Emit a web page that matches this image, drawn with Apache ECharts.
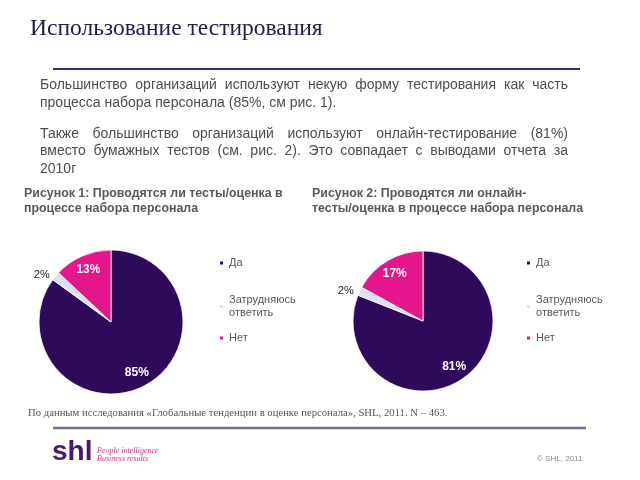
<!DOCTYPE html>
<html>
<head>
<meta charset="utf-8">
<script src="https://cdn.jsdelivr.net/npm/echarts@6/dist/echarts.min.js"></script>
<style>html,body{margin:0;padding:0;background:#fff;}#c{width:640px;height:480px;}</style>
</head>
<body>
<div id="c"></div>
<script>
// ---- data ----
const categories = ['Да', 'Затрудняюсь\nответить', 'Нет'];
const valuesFig1 = [85, 2, 13];
const valuesFig2 = [81, 2, 17];
const colors = ['#2e0a5a', '#dde1ee', '#e5168b'];

const titleText = 'Использование тестирования';
const para1 = [
  'Большинство организаций используют некую форму тестирования как часть',
  'процесса набора персонала (85%, см рис. 1).'
];
const para2 = [
  'Также большинство организаций используют онлайн-тестирование (81%)',
  'вместо бумажных тестов (см. рис. 2). Это совпадает с выводами отчета за',
  '2010г'
];
const fig1Title = ['Рисунок 1: Проводятся ли тесты/оценка в', 'процессе набора персонала'];
const fig2Title = ['Рисунок 2: Проводятся ли онлайн-', 'тесты/оценка в процессе набора персонала'];
const footnote = 'По данным исследования «Глобальные тенденции в оценке персонала», SHL, 2011. N – 463.';

// ---- layout helpers ----
const SANS = '"Liberation Sans", Arial, sans-serif';
const SERIF = '"Liberation Serif", "Times New Roman", serif';
const bodyFontSize = 14;
const ctx = document.createElement('canvas').getContext('2d');
ctx.font = bodyFontSize + 'px "Liberation Sans"';

function textEl(x, y, text, style) {
  return { type: 'text', x: x, y: y, silent: true,
    style: Object.assign({ text: text, verticalAlign: 'middle', textAlign: 'left' }, style) };
}
const bodyStyle = { fill: '#4d4d4d', font: bodyFontSize + 'px ' + SANS };
function lineEls(text, x0, x1, y, justify) {
  if (!justify) return [textEl(x0, y, text, bodyStyle)];
  const words = text.split(' ');
  const widths = words.map(w => ctx.measureText(w).width);
  const total = widths.reduce((a, b) => a + b, 0);
  const gap = (x1 - x0 - total) / (words.length - 1);
  const els = [];
  let x = x0;
  words.forEach((w, i) => { els.push(textEl(x, y, w, bodyStyle)); x += widths[i] + gap; });
  return els;
}

const graphics = [];
graphics.push(textEl(30, 29.2, titleText, { fill: '#1e1e4e', font: '23.5px ' + SERIF }));
graphics.push({ type: 'line', silent: true, shape: { x1: 53, y1: 69, x2: 580, y2: 69 },
  style: { stroke: '#3b2a6a', lineWidth: 2 } });
const L = 40, R = 568;
graphics.push(...lineEls(para1[0], L, R, 85.2, true));
graphics.push(...lineEls(para1[1], L, R, 102.7, false));
graphics.push(...lineEls(para2[0], L, R, 133.7, true));
graphics.push(...lineEls(para2[1], L, R, 151.2, true));
graphics.push(...lineEls(para2[2], L, R, 168.7, false));

const subStyle = { fill: '#595959', font: 'bold 12.4px ' + SANS };
graphics.push(textEl(24, 193.8, fig1Title[0], subStyle));
graphics.push(textEl(24, 208.8, fig1Title[1], subStyle));
graphics.push(textEl(312, 193.8, fig2Title[0], subStyle));
graphics.push(textEl(312, 208.8, fig2Title[1], subStyle));

graphics.push(textEl(28, 413.4, footnote, { fill: '#555', font: '10.7px ' + SERIF }));
graphics.push({ type: 'line', silent: true, shape: { x1: 53, y1: 428, x2: 586, y2: 428 },
  style: { stroke: '#716a96', lineWidth: 2.5 } });
graphics.push(textEl(52, 452, 'shl', { fill: '#4a1a6f', font: 'bold 28px ' + SANS }));
graphics.push(textEl(97, 451, 'People intelligence', { fill: '#c2408f', font: 'italic 8px ' + SERIF }));
graphics.push(textEl(97, 459, 'Business results', { fill: '#c2408f', font: 'italic 8px ' + SERIF }));
graphics.push(textEl(537, 459, '© SHL, 2011', { fill: '#888', font: '8px ' + SANS }));

// ---- pies ----
function pieSeries(name, values, center, radius) {
  return {
    type: 'pie', name: name, center: center, radius: radius,
    startAngle: 90, clockwise: true, animation: false,
    itemStyle: { borderColor: '#fff', borderWidth: 0.8 },
    labelLine: { show: false, length: 1, length2: 0 },
    data: categories.map((c, i) => ({
      name: c, value: values[i],
      itemStyle: { color: colors[i] },
      label: i === 1
        ? { show: true, position: 'outside', formatter: '{c}%', color: '#222', fontSize: 11, fontFamily: SANS }
        : { show: true, position: 'inside', formatter: '{c}%', color: '#fff', fontSize: 12, fontWeight: 'bold', fontFamily: SANS }
    })),
    labelLayout: function (p) {
      if (p.dataIndex === 1) return {};
      const lx = p.labelRect.x + p.labelRect.width / 2;
      const ly = p.labelRect.y + p.labelRect.height / 2;
      const k = 0.46;
      return { dx: (lx - center[0]) * k, dy: (ly - center[1]) * k };
    }
  };
}
const pie1Center = [111, 322], pie2Center = [423, 321];

function legendItem(name, left, top) {
  return {
    data: [name], left: left, top: top, orient: 'vertical',
    itemWidth: 5, itemHeight: 5, icon: 'rect', selectedMode: false,
    textStyle: { color: '#595959', fontSize: 11, fontFamily: SANS, lineHeight: 13 },
    padding: 0
  };
}
const legendTops = [256.5, 293.5, 331.5];
const legends = [];
categories.forEach((c, i) => {
  legends.push(legendItem(c, 218, legendTops[i]));
  legends.push(legendItem(c, 525, legendTops[i]));
});

const chart = echarts.init(document.getElementById('c'), null, { renderer: 'canvas' });
chart.setOption({
  backgroundColor: '#fff',
  animation: false,
  color: colors,
  legend: legends,
  graphic: graphics,
  series: [
    pieSeries('Рисунок 1', valuesFig1, pie1Center, 72),
    pieSeries('Рисунок 2', valuesFig2, pie2Center, 70)
  ]
});
</script>
</body>
</html>
